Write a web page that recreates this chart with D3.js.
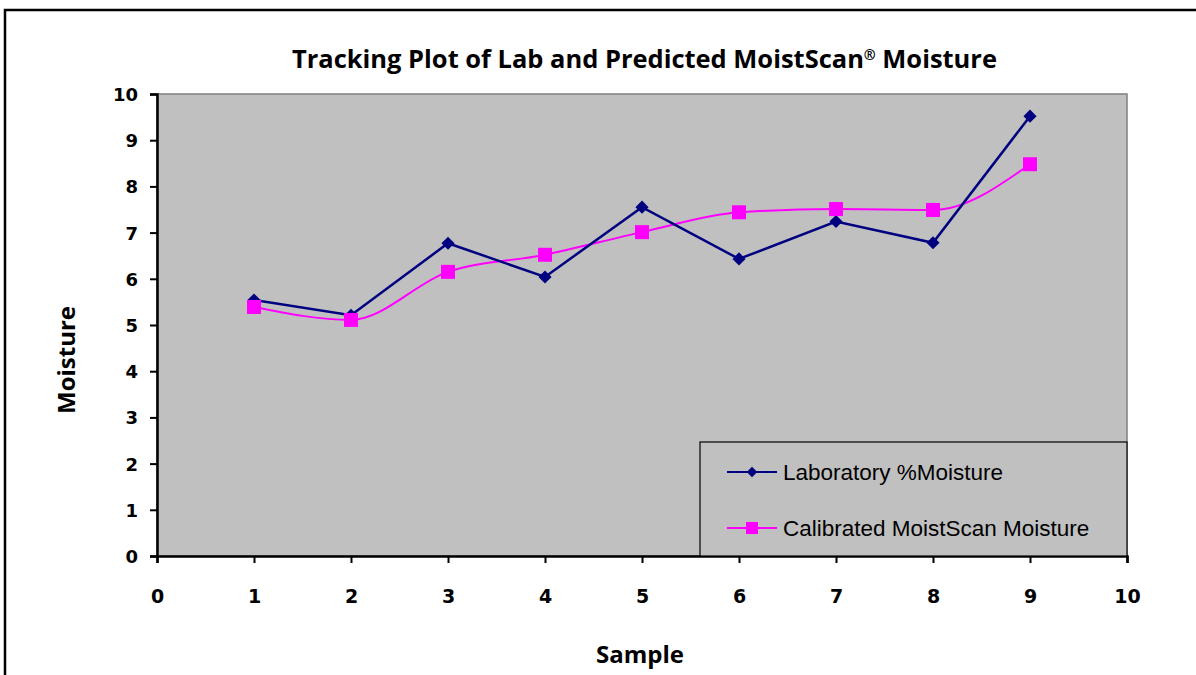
<!DOCTYPE html>
<html>
<head>
<meta charset="utf-8">
<script src="https://cdn.jsdelivr.net/npm/d3@7"></script>
<style>
  body { margin: 0; background: #fff; }
  svg { display: block; }
</style>
</head>
<body>
<svg id="chart"></svg>
<script>
const samples = [1, 2, 3, 4, 5, 6, 7, 8, 9];
const labMoisture = [5.54, 5.21, 6.77, 6.04, 7.55, 6.43, 7.24, 6.78, 9.52];
const calibMoisture = [5.39, 5.11, 6.15, 6.52, 7.01, 7.44, 7.51, 7.49, 8.48];
const xTicks = d3.range(0, 11);
const yTicks = d3.range(0, 11);

const width = 1196;
const height = 675;
const svg = d3.select('#chart')
    .attr('width', width)
    .attr('height', height);

// outer frame, runs off right and bottom edges
svg.append('rect')
    .attr('x', 5).attr('y', 10)
    .attr('width', 1250).attr('height', 700)
    .attr('fill', '#fff')
    .attr('stroke', '#000')
    .attr('stroke-width', 2.5);

const plot = { left: 157, right: 1127, top: 94, bottom: 556 };

const x = d3.scaleLinear().domain([0, 10]).range([plot.left, plot.right]);
const y = d3.scaleLinear().domain([0, 10]).range([plot.bottom, plot.top]);

// plot area
svg.append('rect')
    .attr('x', plot.left).attr('y', plot.top)
    .attr('width', plot.right - plot.left)
    .attr('height', plot.bottom - plot.top)
    .attr('fill', '#c0c0c0')
    .attr('stroke', '#808080')
    .attr('stroke-width', 1.5);

// axes
const xAxis = svg.append('g')
    .attr('transform', `translate(0,${plot.bottom})`)
    .call(d3.axisBottom(x).tickValues(xTicks).tickSize(7).tickPadding(27).tickFormat(d3.format('d')));
const yAxis = svg.append('g')
    .attr('transform', `translate(${plot.left},0)`)
    .call(d3.axisLeft(y).tickValues(yTicks).tickSize(7).tickPadding(12).tickFormat(d3.format('d')));

[xAxis, yAxis].forEach(ax => {
    ax.select('.domain').attr('stroke', '#000').attr('stroke-width', 2.5);
    ax.selectAll('.tick line').attr('stroke', '#000').attr('stroke-width', 2);
    ax.selectAll('.tick text')
        .attr('fill', '#000')
        .style('font-family', 'Verdana, "DejaVu Sans", sans-serif')
        .style('font-weight', 'bold')
        .style('font-size', '18px');
});
xAxis.selectAll('.tick text').style('font-size', '19px');
yAxis.selectAll('.tick text').attr('dy', '0.36em');

// lines
const labLine = d3.line()
    .x((d, i) => x(samples[i]))
    .y(d => y(d));
const calibLine = d3.line()
    .x((d, i) => x(samples[i]))
    .y(d => y(d))
    .curve(d3.curveMonotoneX);

svg.append('path')
    .datum(calibMoisture)
    .attr('d', calibLine)
    .attr('fill', 'none')
    .attr('stroke', '#ff00ff')
    .attr('stroke-width', 2);

svg.append('path')
    .datum(labMoisture)
    .attr('d', labLine)
    .attr('fill', 'none')
    .attr('stroke', '#000080')
    .attr('stroke-width', 2.5);

const diamond = d3.symbol().type(d3.symbolDiamond2).size(110);

svg.append('g')
    .selectAll('path')
    .data(labMoisture)
    .enter().append('path')
    .attr('d', diamond)
    .attr('transform', (d, i) => `translate(${x(samples[i])},${y(d)})`)
    .attr('fill', '#000080');

svg.append('g')
    .selectAll('rect')
    .data(calibMoisture)
    .enter().append('rect')
    .attr('x', (d, i) => x(samples[i]) - 7)
    .attr('y', d => y(d) - 7)
    .attr('width', 14)
    .attr('height', 14)
    .attr('fill', '#ff00ff');

// legend
const legend = svg.append('g');
legend.append('rect')
    .attr('x', 700).attr('y', 442)
    .attr('width', plot.right - 700).attr('height', plot.bottom - 442)
    .attr('fill', '#c0c0c0')
    .attr('stroke', '#000')
    .attr('stroke-width', 1.2);

const legendItems = [
    { label: 'Laboratory %Moisture', color: '#000080', marker: 'diamond', y: 472 },
    { label: 'Calibrated MoistScan Moisture', color: '#ff00ff', marker: 'square', y: 528 }
];

legendItems.forEach(item => {
    legend.append('line')
        .attr('x1', 727).attr('x2', 777)
        .attr('y1', item.y).attr('y2', item.y)
        .attr('stroke', item.color)
        .attr('stroke-width', 2);
    if (item.marker === 'diamond') {
        legend.append('path')
            .attr('d', d3.symbol().type(d3.symbolDiamond2).size(70))
            .attr('transform', `translate(752,${item.y})`)
            .attr('fill', item.color);
    } else {
        legend.append('rect')
            .attr('x', 746).attr('y', item.y - 6)
            .attr('width', 12).attr('height', 12)
            .attr('fill', item.color);
    }
    legend.append('text')
        .attr('x', 783).attr('y', item.y)
        .attr('dy', '0.35em')
        .style('font-family', 'Arial, "Liberation Sans", sans-serif')
        .style('font-size', '22.5px')
        .attr('fill', '#000')
        .text(item.label);
});

// title
const title = svg.append('text')
    .attr('x', 292).attr('y', 68)
    .attr('textLength', 705)
    .attr('lengthAdjust', 'spacingAndGlyphs')
    .style('font-family', '"Open Sans", sans-serif')
    .style('font-weight', 'bold')
    .style('font-size', '25px')
    .attr('fill', '#000');
title.append('tspan').text('Tracking Plot of Lab and Predicted MoistScan');
title.append('tspan').attr('dy', -8).style('font-size', '14px').text('®');
title.append('tspan').attr('dy', 8).text(' Moisture');

// axis titles
svg.append('text')
    .attr('x', 640).attr('y', 663)
    .attr('text-anchor', 'middle')
    .style('font-family', '"Open Sans", sans-serif')
    .style('font-weight', 'bold')
    .style('font-size', '24px')
    .attr('fill', '#000')
    .text('Sample');

svg.append('text')
    .attr('transform', 'translate(75,360) rotate(-90)')
    .attr('text-anchor', 'middle')
    .style('font-family', '"Open Sans", sans-serif')
    .style('font-weight', 'bold')
    .style('font-size', '24px')
    .attr('fill', '#000')
    .text('Moisture');
</script>
</body>
</html>
